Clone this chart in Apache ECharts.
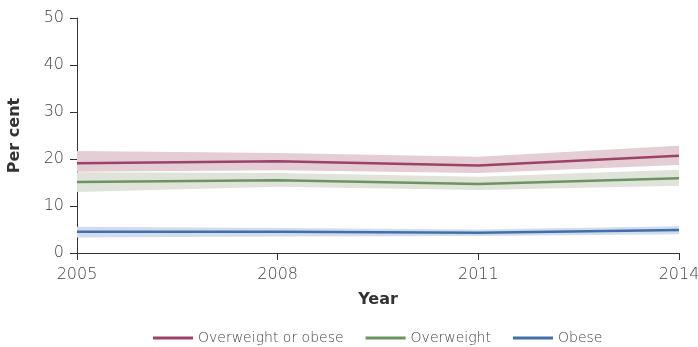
<!DOCTYPE html>
<html>
<head>
<meta charset="utf-8">
<script src="https://cdn.jsdelivr.net/npm/echarts@6/dist/echarts.min.js"></script>
<style>
  html, body { margin: 0; padding: 0; background: #fff; }
  #chart { width: 698px; height: 347px; }
</style>
</head>
<body>
<div id="chart"></div>
<script>
// survey years
const years = ['2005', '2008', '2011', '2014']

// per cent, with confidence bands
const ovoMid = [19.1, 19.5, 18.6, 20.7]
const ovoLow = [17.3, 17.6, 17.0, 18.7]
const ovoHigh = [21.7, 21.3, 20.5, 22.8]

const owMid = [15.1, 15.5, 14.7, 15.9]
const owLow = [13.0, 14.1, 13.4, 14.3]
const owHigh = [17.2, 17.0, 16.2, 17.7]

const obMid = [4.5, 4.5, 4.3, 4.9]
const obLow = [3.3, 3.5, 3.6, 4.0]
const obHigh = [5.6, 5.3, 5.0, 5.7]

const names = ['Overweight or obese', 'Overweight', 'Obese']
const lineColors = ['#9c4267', '#6b955f', '#416fa9']
const bandColors = ['#e4cdd4', '#dfe3d9', '#d3dcec']

function bandSeries(key, low, high, color) {
  return [{
    type: 'line',
    stack: key,
    symbol: 'none',
    silent: true,
    lineStyle: { opacity: 0 },
    data: low,
    z: 1,
  }, {
    type: 'line',
    stack: key,
    symbol: 'none',
    silent: true,
    lineStyle: { opacity: 0 },
    areaStyle: { color, opacity: 1 },
    data: high.map((v, i) => +(v - low[i]).toFixed(2)),
    z: 1,
  }]
}

function midSeries(name, mid, color) {
  return {
    name,
    type: 'line',
    symbol: 'none',
    lineStyle: { color, width: 2.5 },
    itemStyle: { color },
    data: mid,
    z: 3,
  }
}

const chart = echarts.init(document.getElementById('chart'))

const font = '"DejaVu Sans", sans-serif'

chart.setOption({
  animation: false,
  grid: { left: 77, right: 19, top: 18, bottom: 94, outerBoundsMode: 'none' },
  legend: {
    data: names,
    top: 326,
    left: 148,
    icon: 'rect',
    itemWidth: 40,
    itemHeight: 3,
    itemGap: 22,
    textStyle: { color: '#444', fontSize: 14, fontWeight: 200, fontFamily: font },
  },
  xAxis: {
    type: 'category',
    boundaryGap: false,
    data: years,
    name: 'Year',
    nameLocation: 'middle',
    nameGap: 39,
    nameTextStyle: { color: '#333', fontSize: 16, fontWeight: 'bold', fontFamily: font },
    axisLine: { lineStyle: { color: '#333', width: 1 } },
    axisTick: { show: true, length: 7, lineStyle: { color: '#333' } },
    axisLabel: { color: '#444', fontSize: 16, fontWeight: 200, margin: 14, fontFamily: font },
    splitLine: { show: false },
  },
  yAxis: {
    type: 'value',
    min: 0,
    max: 50,
    interval: 10,
    name: 'Per cent',
    nameLocation: 'middle',
    nameGap: 54,
    nameRotate: 90,
    nameTextStyle: { color: '#333', fontSize: 16, fontWeight: 'bold', fontFamily: font },
    axisLine: { show: true, lineStyle: { color: '#333', width: 1 } },
    axisTick: { show: true, length: 7, lineStyle: { color: '#333' } },
    axisLabel: { color: '#444', fontSize: 16, fontWeight: 200, margin: 13, fontFamily: font },
    splitLine: { show: false },
  },
  series: [
    ...bandSeries('ovo', ovoLow, ovoHigh, bandColors[0]),
    ...bandSeries('ow', owLow, owHigh, bandColors[1]),
    ...bandSeries('ob', obLow, obHigh, bandColors[2]),
    midSeries(names[0], ovoMid, lineColors[0]),
    midSeries(names[1], owMid, lineColors[1]),
    midSeries(names[2], obMid, lineColors[2]),
  ],
})
</script>
</body>
</html>
